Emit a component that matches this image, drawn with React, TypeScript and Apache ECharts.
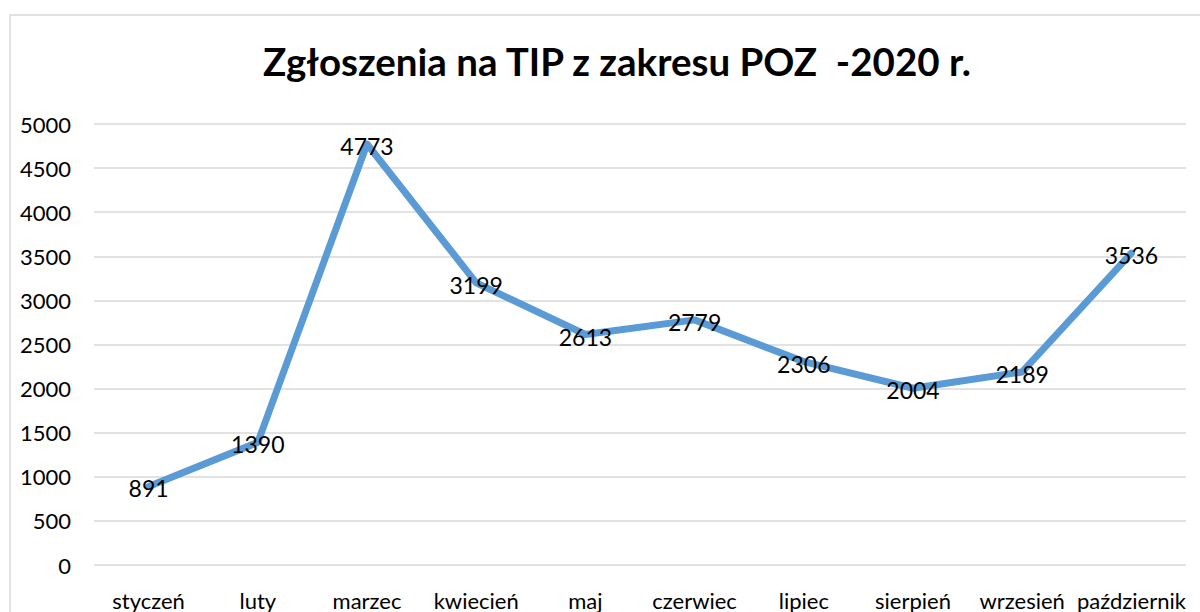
import React, { useEffect, useRef } from "react";
import * as echarts from "echarts";

const title = "Zgłoszenia na TIP z zakresu POZ  -2020 r.";
const months = ["styczeń", "luty", "marzec", "kwiecień", "maj", "czerwiec", "lipiec", "sierpień", "wrzesień", "październik"];
const values = [891, 1390, 4773, 3199, 2613, 2779, 2306, 2004, 2189, 3536];

const FONT = "Lato, 'Open Sans', sans-serif";

export default function App() {
  const ref = useRef<HTMLDivElement>(null);
  useEffect(() => {
    if (!ref.current) return;
    const chart = echarts.init(ref.current, null, { renderer: "svg" });
    chart.setOption({
      animation: false,
      backgroundColor: "#ffffff",
      title: {
        text: title,
        left: 612,
        textAlign: "center",
        top: 36,
        textStyle: { fontFamily: FONT, fontWeight: "bold", fontSize: 38.5, color: "#000000" },
      },
      graphic: [
        {
          type: "rect",
          shape: { x: 10, y: 15, width: 1240, height: 660 },
          style: { fill: "none", stroke: "#d9d9d9", lineWidth: 1.5 },
          silent: true,
        },
      ],
      grid: { left: 94, right: 14, top: 124, bottom: 47, containLabel: false },
      xAxis: {
        type: "category",
        data: months,
        boundaryGap: true,
        axisLine: { show: false },
        axisTick: { show: false },
        axisLabel: { fontFamily: FONT, fontSize: 22, color: "#000000", margin: 24, interval: 0 },
      },
      yAxis: {
        type: "value",
        min: 0,
        max: 5000,
        interval: 500,
        axisLine: { show: false },
        axisTick: { show: false },
        axisLabel: {
          fontFamily: FONT,
          fontSize: 22,
          color: "#000000",
          margin: 23,
          formatter: (v: number) => String(v),
        },
        splitLine: { lineStyle: { color: "#d9d9d9", width: 1.5 } },
      },
      series: [
        {
          type: "line",
          data: values,
          showSymbol: true,
          symbol: "circle",
          symbolSize: 0,
          lineStyle: { color: "#5b9bd5", width: 7, cap: "round", join: "round" },
          itemStyle: { color: "#5b9bd5" },
          label: {
            show: true,
            position: "inside",
            offset: [0, 2],
            fontFamily: FONT,
            fontSize: 23,
            color: "#000000",
          },
        },
      ],
    });
    return () => chart.dispose();
  }, []);
  return (
    <div
      ref={ref}
      style={{ position: "absolute", left: 0, top: 0, width: 1200, height: 612 }}
    />
  );
}
